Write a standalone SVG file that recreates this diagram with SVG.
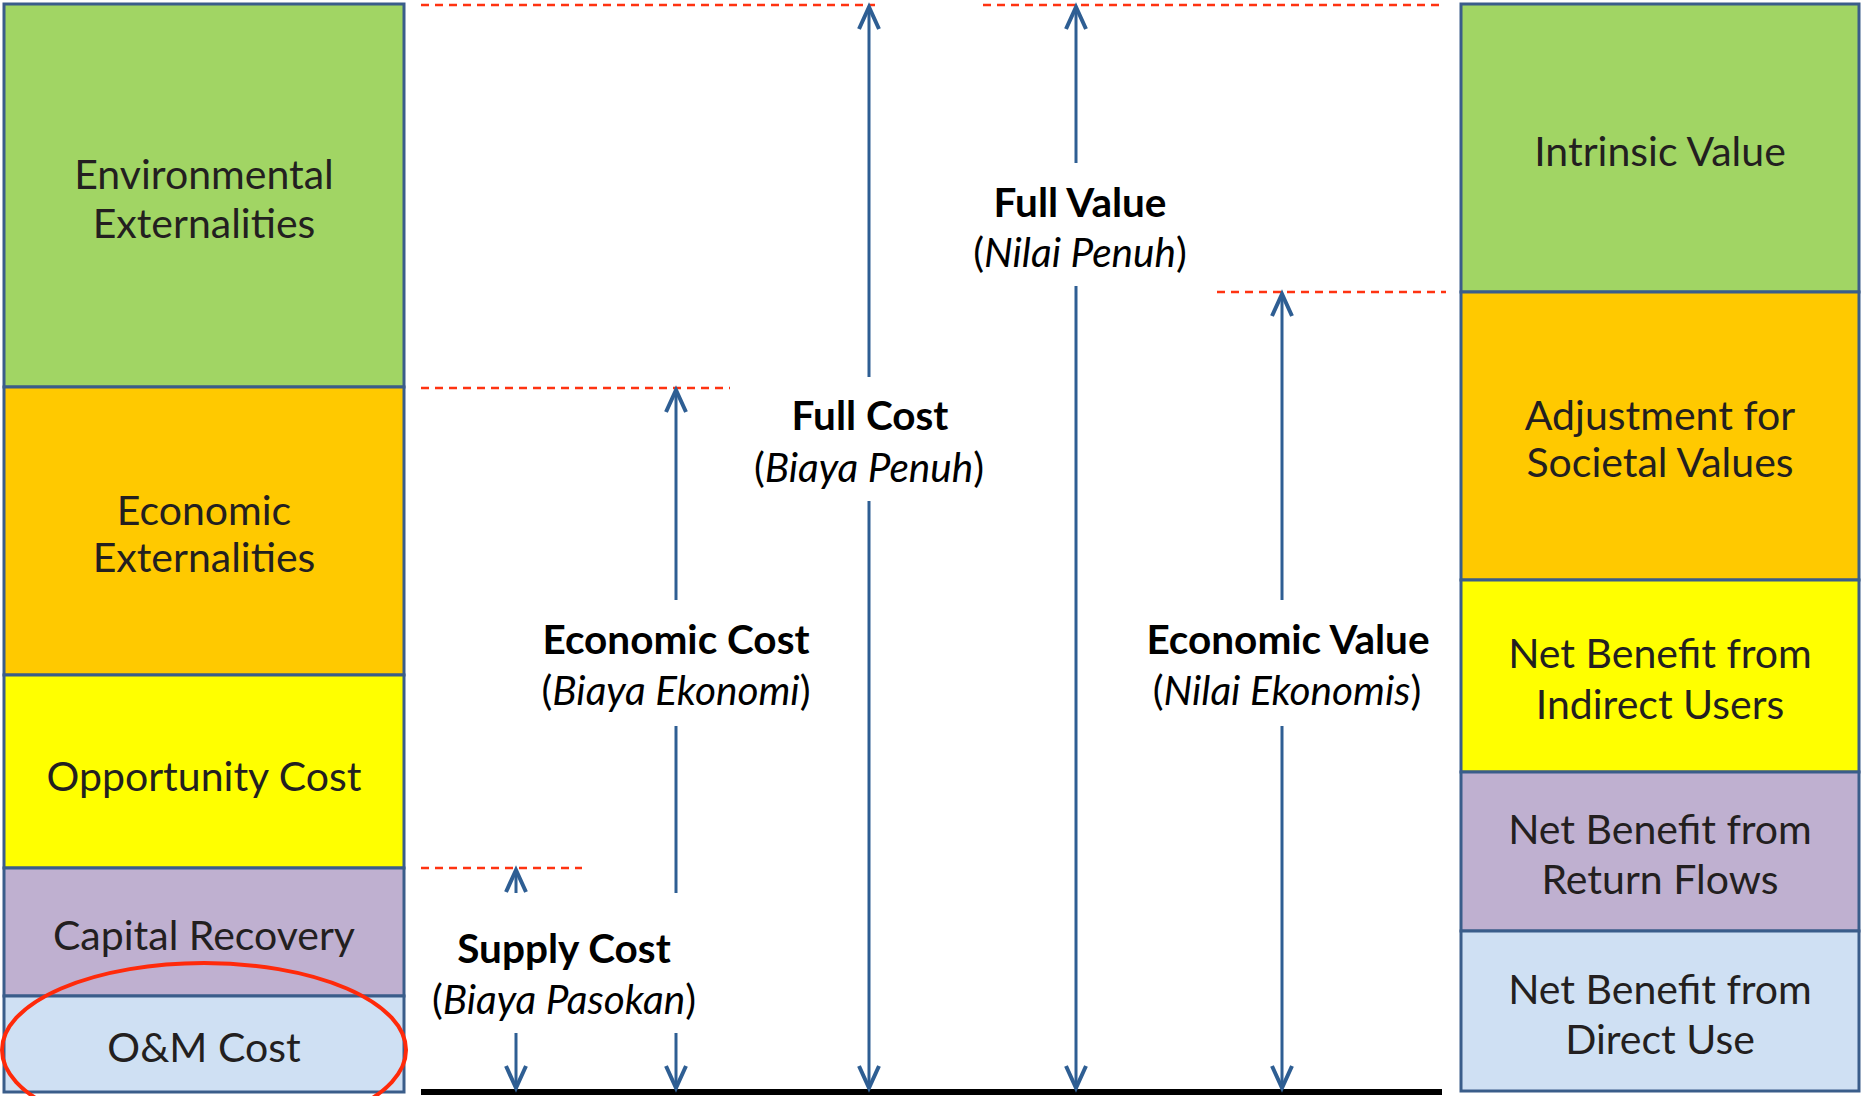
<svg xmlns="http://www.w3.org/2000/svg" width="1861" height="1096" viewBox="0 0 1861 1096">
<style>
.box{stroke:#3A5D8A;stroke-width:3}
.g{fill:#A1D564}.o{fill:#FFC900}.y{fill:#FFFF00}.p{fill:#BFB0D0}.b{fill:#CFE0F3}
.bt{font-family:Lato,"Open Sans",sans-serif;font-size:41px;fill:#231F20;text-anchor:middle}
.lb{font-family:Lato,"Open Sans",sans-serif;font-size:40.5px;fill:#000;text-anchor:middle}
.bold{font-weight:bold}
.dash{stroke:#FF3311;stroke-width:2.5;stroke-dasharray:8 6;fill:none}
.arr{stroke:#2E5E93;stroke-width:3;fill:none;marker-end:url(#ah)}
.ln{stroke:#2E5E93;stroke-width:3;fill:none}
</style>
<defs>
<marker id="ah" markerUnits="userSpaceOnUse" markerWidth="40" markerHeight="40" refX="0" refY="0" viewBox="-30 -20 40 40" orient="auto" overflow="visible">
<path d="M-22,-10 L0,0 L-22,10" fill="none" stroke="#2E5E93" stroke-width="4"/>
</marker>
</defs>
<rect width="1861" height="1096" fill="#FFFFFF"/>
<g id="left-column">
<g id="environmental-externalities"><rect class="box g" x="4" y="4" width="400" height="383"/><text class="bt" x="204" y="189">Environmental</text><text class="bt" x="204" y="238">Externalities</text></g>
<g id="economic-externalities"><rect class="box o" x="4" y="387" width="400" height="288"/><text class="bt" x="204" y="525">Economic</text><text class="bt" x="204" y="572">Externalities</text></g>
<g id="opportunity-cost"><rect class="box y" x="4" y="675" width="400" height="193"/><text class="bt" x="204" y="791">Opportunity Cost</text></g>
<g id="capital-recovery"><rect class="box p" x="4" y="868" width="400" height="128"/><text class="bt" x="204" y="950">Capital Recovery</text></g>
<g id="om-cost"><rect class="box b" x="4" y="996" width="400" height="96"/><text class="bt" x="204" y="1062">O&amp;M Cost</text></g>
</g>
<g id="right-column">
<g id="intrinsic-value"><rect class="box g" x="1461" y="4" width="398" height="288"/><text class="bt" x="1660" y="166">Intrinsic Value</text></g>
<g id="societal-values"><rect class="box o" x="1461" y="292" width="398" height="288"/><text class="bt" x="1660" y="430">Adjustment for</text><text class="bt" x="1660" y="477">Societal Values</text></g>
<g id="indirect-users"><rect class="box y" x="1461" y="580" width="398" height="192"/><text class="bt" x="1660" y="668">Net Benefit from</text><text class="bt" x="1660" y="719">Indirect Users</text></g>
<g id="return-flows"><rect class="box p" x="1461" y="772" width="398" height="159"/><text class="bt" x="1660" y="844">Net Benefit from</text><text class="bt" x="1660" y="894">Return Flows</text></g>
<g id="direct-use"><rect class="box b" x="1461" y="931" width="398" height="160"/><text class="bt" x="1660" y="1004">Net Benefit from</text><text class="bt" x="1660" y="1054">Direct Use</text></g>
</g>
<g id="highlight"><ellipse cx="204" cy="1050" rx="202" ry="87" fill="none" stroke="#FF2A0A" stroke-width="4"/></g>
<g id="guides">
<line class="dash" x1="421" y1="5" x2="875" y2="5"/>
<line class="dash" x1="983" y1="5" x2="1442" y2="5"/>
<line class="dash" x1="1217" y1="292" x2="1446" y2="292"/>
<line class="dash" x1="421" y1="388" x2="730" y2="388"/>
<line class="dash" x1="421" y1="868" x2="582" y2="868"/>
</g>
<g id="connectors">
<line x1="421" y1="1092" x2="1442" y2="1092" stroke="#000" stroke-width="6"/>
<line class="arr" x1="516" y1="893" x2="516" y2="870"/>
<line class="arr" x1="516" y1="1033" x2="516" y2="1088"/>
<line class="arr" x1="676" y1="600" x2="676" y2="390"/>
<line class="ln" x1="676" y1="726" x2="676" y2="893"/>
<line class="arr" x1="676" y1="1033" x2="676" y2="1088"/>
<line class="arr" x1="869" y1="377" x2="869" y2="7"/>
<line class="arr" x1="869" y1="501" x2="869" y2="1088"/>
<line class="arr" x1="1076" y1="163" x2="1076" y2="7"/>
<line class="arr" x1="1076" y1="286" x2="1076" y2="1088"/>
<line class="arr" x1="1282" y1="600" x2="1282" y2="294"/>
<line class="arr" x1="1282" y1="726" x2="1282" y2="1088"/>
</g>
<g id="labels">
<g id="supply-cost"><text class="lb bold" x="564" y="963">Supply Cost</text><text class="lb" x="564" y="1014">(<tspan font-style="italic">Biaya Pasokan</tspan>)</text></g>
<g id="economic-cost"><text class="lb bold" x="676" y="654">Economic Cost</text><text class="lb" x="676" y="705">(<tspan font-style="italic">Biaya Ekonomi</tspan>)</text></g>
<g id="full-cost"><text class="lb bold" x="870" y="430">Full Cost</text><text class="lb" x="869" y="482">(<tspan font-style="italic">Biaya Penuh</tspan>)</text></g>
<g id="full-value"><text class="lb bold" x="1080" y="217">Full Value</text><text class="lb" x="1080" y="267">(<tspan font-style="italic">Nilai Penuh</tspan>)</text></g>
<g id="economic-value"><text class="lb bold" x="1288" y="654">Economic Value</text><text class="lb" x="1287" y="705">(<tspan font-style="italic">Nilai Ekonomis</tspan>)</text></g>
</g>
</svg>
